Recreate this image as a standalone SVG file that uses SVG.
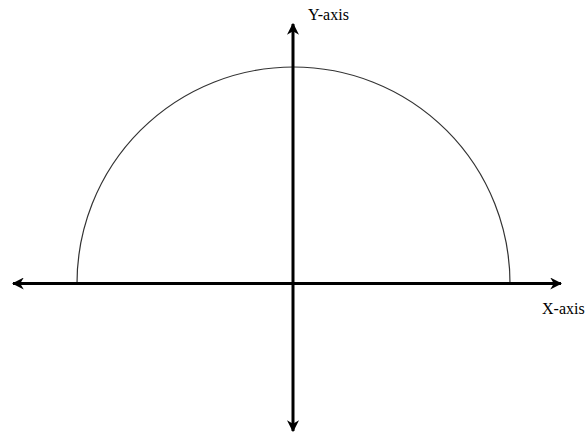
<svg xmlns="http://www.w3.org/2000/svg" width="587" height="437" viewBox="0 0 587 437">
<style>
.axis{stroke:#000;stroke-width:3;fill:none}
.arc{stroke:#333;stroke-width:1.2;fill:none}
</style>
<defs>
<marker id="ah" viewBox="0 0 10 10" refX="9" refY="5" markerWidth="4" markerHeight="4" markerUnits="strokeWidth" orient="auto">
<path d="M0,0 L10,5 L0,10 L3,5 Z" fill="#000"/>
</marker>
</defs>
<rect width="587" height="437" fill="#fff"/>
<g id="semicircle">
<path class="arc" d="M77,283.5 A216.5,216.5 0 0 1 510,283.5"/>
</g>
<g id="connectors">
<line class="axis" x1="293" y1="283.5" x2="13" y2="283.5" marker-end="url(#ah)"/>
<line class="axis" x1="293" y1="283.5" x2="561" y2="283.5" marker-end="url(#ah)"/>
<line class="axis" x1="293" y1="283.5" x2="293" y2="24" marker-end="url(#ah)"/>
<line class="axis" x1="293" y1="283.5" x2="293" y2="431" marker-end="url(#ah)"/>
</g>
<g id="y-label"><text x="308" y="20" font-family="Liberation Serif, Times New Roman, serif" font-size="16" fill="#000">Y-axis</text></g>
<g id="x-label"><text x="542" y="314" font-family="Liberation Serif, Times New Roman, serif" font-size="16" fill="#000">X-axis</text></g>
</svg>
